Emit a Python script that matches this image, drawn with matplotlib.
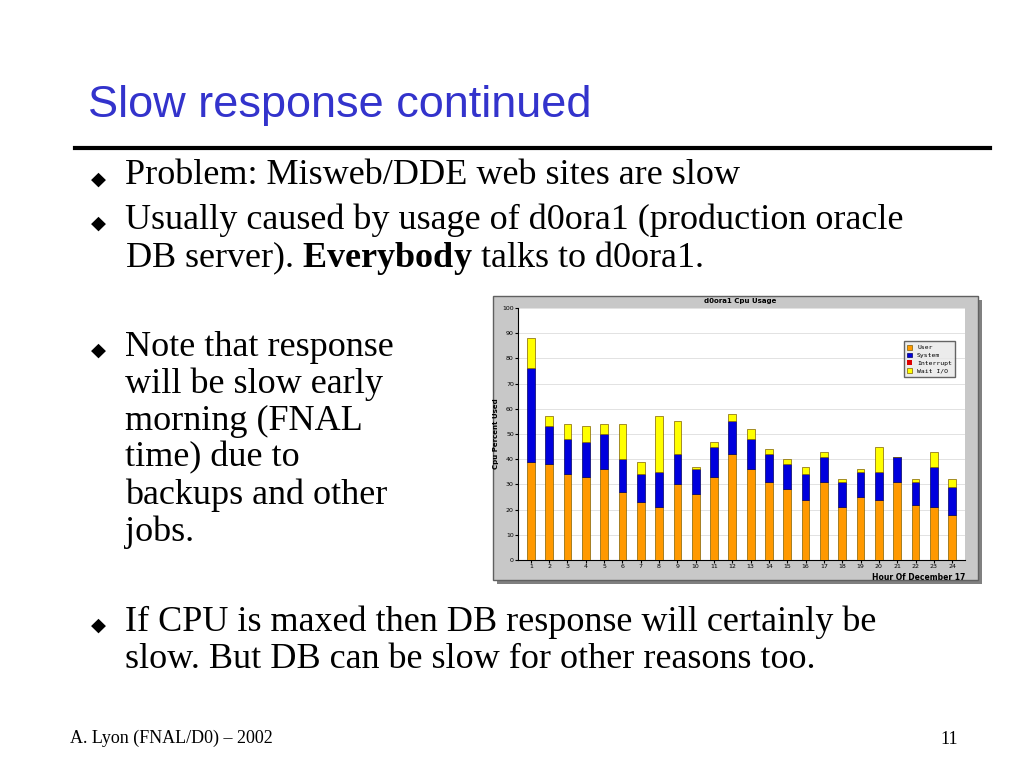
import matplotlib
matplotlib.use("Agg")
import matplotlib.pyplot as plt
from matplotlib.patches import Rectangle

plt.rcParams["mathtext.fontset"] = "custom"
plt.rcParams["mathtext.bf"] = "Liberation Serif:bold"
plt.rcParams["mathtext.rm"] = "Liberation Serif"

hours = list(range(1, 25))
user = [39,38,34,33,36,27,23,21,30,26,33,42,36,31,28,24,31,21,25,24,31,22,21,18]
system_top = [76,53,48,47,50,40,34,35,42,36,45,55,48,42,38,34,41,31,35,35,41,31,37,29]
total = [88,57,54,53,54,54,39,57,55,37,47,58,52,44,40,37,43,32,36,45,41,32,43,32]
system = [s - u for s, u in zip(system_top, user)]
interrupt = [0]*24
wait = [t - s for t, s in zip(total, system_top)]

W, H = 1024, 768
fig = plt.figure(figsize=(W/100, H/100), dpi=100)
fig.patch.set_facecolor("white")

def fx(x): return x / W
def fy(y): return 1 - y / H

serif = "Liberation Serif"
fig.text(fx(88), fy(105), "Slow response continued", color="#3333cc",
         fontsize=32.5, family="Liberation Sans", va="center")
fig.add_artist(plt.Line2D([fx(75), fx(990)], [fy(148), fy(148)], color="black", lw=3))

def bullet(x, y):
    fig.text(fx(x), fy(y), "◆", fontsize=14, family="DejaVu Sans", va="center", ha="center")

tsz = 26
bullet(98, 179)
fig.text(fx(125), fy(176), "Problem: Misweb/DDE web sites are slow", fontsize=tsz, family=serif, va="center")
bullet(98, 223)
fig.text(fx(125), fy(220), "Usually caused by usage of d0ora1 (production oracle", fontsize=tsz, family=serif, va="center")
fig.text(fx(125), fy(258), "DB server). $\\mathbf{Everybody}$ talks to d0ora1.", fontsize=tsz, family=serif, va="center")
bullet(98, 350)
for i, line in enumerate(["Note that response", "will be slow early", "morning (FNAL", "time) due to",
                          "backups and other", "jobs."]):
    fig.text(fx(125), fy(347 + i*37), line, fontsize=tsz, family=serif, va="center")
bullet(98, 625)
fig.text(fx(125), fy(622), "If CPU is maxed then DB response will certainly be", fontsize=tsz, family=serif, va="center")
fig.text(fx(125), fy(660), "slow. But DB can be slow for other reasons too.", fontsize=tsz, family=serif, va="center")
fig.text(fx(70), fy(738), "A. Lyon (FNAL/D0) – 2002", fontsize=13, family=serif, va="center")
fig.text(fx(958), fy(740), "11", fontsize=13, family=serif, va="center", ha="right")

# chart frame
fig.add_artist(Rectangle((fx(497), fy(584)), fx(485), (584-300)/H, facecolor="#808080", edgecolor="none", zorder=-2))
fig.add_artist(Rectangle((fx(493), fy(580)), fx(485), (580-296)/H, facecolor="#c8c8c8", edgecolor="#606060", lw=1, zorder=-1))
fig.text(fx(740), fy(301), "d0ora1 Cpu Usage", fontsize=5, weight="bold", ha="center", va="center")

ax = fig.add_axes([fx(518), fy(560), fx(965-518), (560-308)/H])
ax.set_zorder(2)
ax.set_facecolor("white")
bw = 0.42
ax.bar(hours, user, width=bw, color="#ff9900", edgecolor="#806000", lw=0.5, label="User", zorder=3)
ax.bar(hours, system, width=bw, bottom=user, color="#0000dd", edgecolor="#000060", lw=0.5, label="System", zorder=3)
ax.bar(hours, interrupt, width=bw, bottom=system_top, color="#dd0000", lw=0, label="Interrupt", zorder=3)
ax.bar(hours, wait, width=bw, bottom=system_top, color="#ffff00", edgecolor="#806000", lw=0.5, label="Wait I/O", zorder=3)
ax.set_xlim(0.3, 24.7)
ax.set_ylim(0, 100)
ax.set_yticks(range(0, 101, 10))
ax.set_xticks(hours)
ax.tick_params(labelsize=4.5, length=2, pad=1)
ax.grid(axis="y", color="#dddddd", lw=0.6, zorder=0)
for s in ["top", "right"]:
    ax.spines[s].set_visible(False)
ax.set_ylabel("Cpu Percent Used", fontsize=5, weight="bold", labelpad=2)
ax.text(1.0, -0.07, "Hour Of December 17", transform=ax.transAxes, fontsize=5.5, weight="bold",
        ha="right", va="center")
leg = ax.legend(loc="upper right", bbox_to_anchor=(0.985, 0.88), fontsize=4.6,
                frameon=True, fancybox=False, handlelength=0.8, handleheight=0.8, borderpad=0.5,
                labelspacing=0.35, edgecolor="#404040")
for t in leg.get_texts():
    t.set_family("DejaVu Sans Mono")
leg.get_frame().set_facecolor("#e8e8e8")

fig.savefig("out.png", dpi=100)
